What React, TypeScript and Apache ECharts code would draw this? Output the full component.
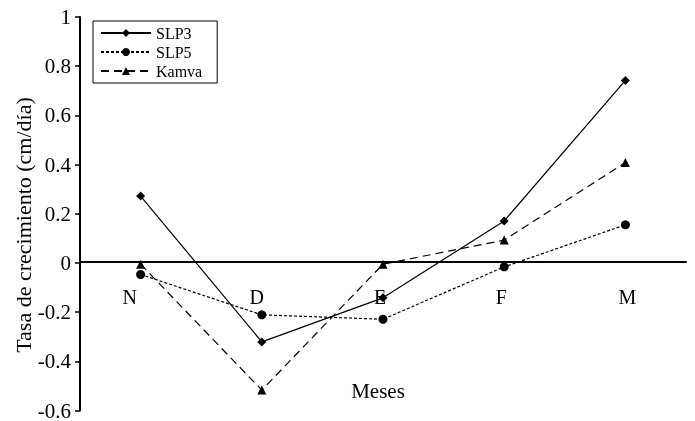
import React, { useEffect, useRef } from "react";
import * as echarts from "echarts";

const categories = ["N", "D", "E", "F", "M"];
const slp3 = [0.272, -0.321, -0.142, 0.171, 0.742];
const slp5 = [-0.047, -0.211, -0.229, -0.016, 0.155];
const kamva = [-0.005, -0.517, -0.005, 0.093, 0.408];
// horizontal nudges of the month labels (px, negative = left), as drawn in the reference
const labelShift = [-11, -5, -3, -3, 2];

const FONT = "'Liberation Serif', 'Times New Roman', serif";

export default function App() {
  const ref = useRef<HTMLDivElement>(null);
  useEffect(() => {
    if (!ref.current) return;
    const chart = echarts.init(ref.current, undefined, { renderer: "svg" });
    const mk = (name: string, data: number[], symbol: string, size: number, type: any) => ({
      name,
      type: "line",
      data,
      symbol,
      symbolSize: size,
      itemStyle: { color: "#000" },
      lineStyle: { color: "#000", width: 1.2, type },
    });
    chart.setOption({
      animation: false,
      textStyle: { fontFamily: FONT },
      grid: { left: 80, right: 9, top: 17, bottom: 8, containLabel: false },
      legend: {
        orient: "vertical",
        left: 93,
        top: 21,
        padding: [4, 15, 4, 7],
        itemGap: 3,
        itemWidth: 50,
        itemHeight: 10,
        borderColor: "#000",
        borderWidth: 1,
        textStyle: { fontFamily: FONT, fontSize: 16, color: "#000" },
        data: ["SLP3", "SLP5", "Kamva"],
      },
      xAxis: {
        type: "category",
        data: categories.map((c, i) => {
          const s = labelShift[i];
          return {
            value: c,
            textStyle: {
              padding: s < 0 ? [0, -2 * s, 0, 0] : [0, 0, 0, 2 * s],
            },
          };
        }),
        offset: -149,
        axisLine: { onZero: false, lineStyle: { color: "#000", width: 2 } },
        axisTick: { show: false },
        axisLabel: { margin: 25, fontFamily: FONT, fontSize: 20, color: "#000" },
      },
      yAxis: {
        type: "value",
        min: -0.6,
        max: 1,
        interval: 0.2,
        splitLine: { show: false },
        axisLine: { show: true, lineStyle: { color: "#000", width: 2 } },
        axisTick: { show: true, length: 5, lineStyle: { color: "#000", width: 1.5 } },
        axisLabel: {
          fontFamily: FONT,
          fontSize: 21,
          color: "#000",
          margin: 9,
          formatter: (v: number) => String(Math.round(v * 10) / 10),
        },
      },
      graphic: [
        {
          type: "text",
          x: 378,
          y: 391,
          style: {
            text: "Meses",
            fontFamily: FONT,
            fontSize: 21,
            fill: "#000",
            align: "center",
            verticalAlign: "middle",
          },
        },
        {
          type: "text",
          x: 23,
          y: 225,
          rotation: Math.PI / 2,
          style: {
            text: "Tasa de crecimiento (cm/día)",
            fontFamily: FONT,
            fontSize: 22,
            fill: "#000",
            align: "center",
            verticalAlign: "middle",
          },
        },
      ],
      series: [
        mk("SLP3", slp3, "diamond", 9, "solid"),
        mk("SLP5", slp5, "circle", 9, [3, 2]),
        mk("Kamva", kamva, "triangle", 9, [8, 5]),
      ],
    });
    return () => chart.dispose();
  }, []);
  return (
    <div
      ref={ref}
      style={{ position: "fixed", left: 0, top: 0, width: 695, height: 421 }}
    />
  );
}
